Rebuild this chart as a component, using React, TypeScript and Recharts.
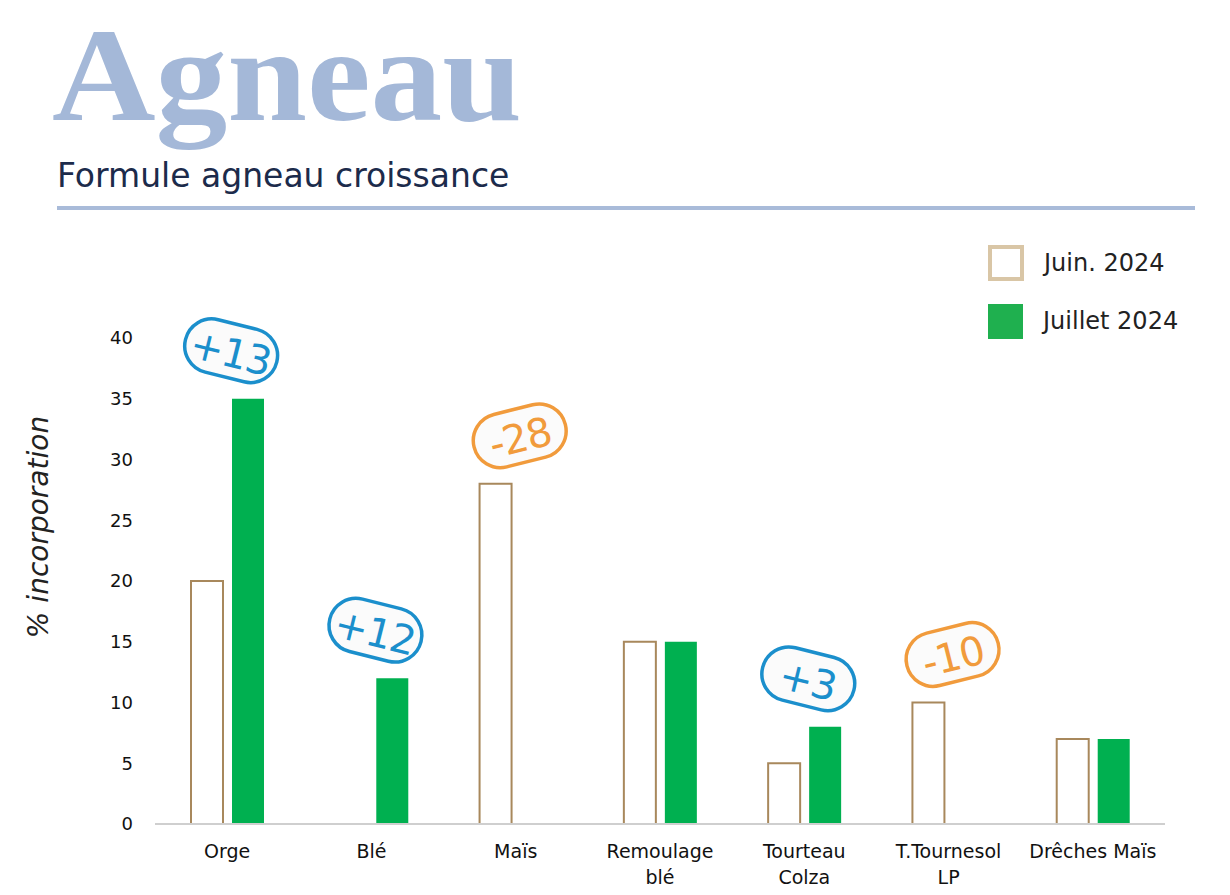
import React from 'react'
import { BarChart, Bar, XAxis, YAxis, ReferenceDot } from 'recharts'

const categories = ['Orge', 'Blé', 'Maïs', 'Remoulage blé', 'Tourteau Colza', 'T.Tournesol LP', 'Drêches Maïs']
const juin2024 = [20, 0, 28, 15, 5, 10, 7]
const juillet2024 = [35, 12, 0, 15, 8, 0, 7]
// écart juillet vs juin, affiché dans les pastilles (0 = pas de pastille)
const variations = [13, 12, -28, 0, 3, -10, 0]
const yTicks = [0, 5, 10, 15, 20, 25, 30, 35, 40]
const seriesNames = ['Juin. 2024', 'Juillet 2024']

const data = categories.map((name, i) => ({
  name,
  juin: juin2024[i],
  juillet: juillet2024[i],
}))

const TAN = '#a8885c'
const GREEN = '#00b050'
const BLUE = '#1b8fcc'
const ORANGE = '#f19b3c'
const SANS = '"DejaVu Sans", sans-serif'

const Badge = (props: any) => {
  const { cx, cy, delta } = props
  if (cx == null || cy == null) return null
  const up = delta > 0
  const color = up ? BLUE : ORANGE
  return (
    <g transform={`translate(${cx + 4}, ${cy - 48}) rotate(${up ? 14 : -14})`}>
      <rect x={-47} y={-27} width={94} height={54} rx={27} fill="#fbfbfb" stroke={color} strokeWidth={3.5} />
      <text
        x={0}
        y={2}
        textAnchor="middle"
        dominantBaseline="central"
        fill={color}
        fontSize={40}
        fontFamily={SANS}
        letterSpacing={-1}
      >
        {up ? `+${delta}` : `${delta}`}
      </text>
    </g>
  )
}

const CategoryTick = ({ x, y, payload }: any) => {
  const label: string = payload.value
  const cut = label.indexOf(' ')
  const lines = label.length > 12 ? [label.slice(0, cut), label.slice(cut + 1)] : [label]
  return (
    <text x={x} y={y} textAnchor="middle" fill="#111" fontSize={19} fontFamily={SANS}>
      {lines.map((l, i) => (
        <tspan key={i} x={x} dy={26}>
          {l}
        </tspan>
      ))}
    </text>
  )
}

const YLabel = () => (
  <text
    transform="translate(48, 527) rotate(-90)"
    textAnchor="middle"
    fill="#222"
    fontSize={28}
    fontStyle="italic"
    fontFamily={SANS}
  >
    % incorporation
  </text>
)

export default function App() {
  return (
    <div style={{ position: 'relative', width: 1230, height: 895, background: '#fff', overflow: 'hidden' }}>
      <style>{'body{margin:0}'}</style>

      {/* En-tête */}
      <svg width={1230} height={240} style={{ position: 'absolute', left: 0, top: 0 }}>
        <text
          x={52}
          y={120}
          fontFamily='"Liberation Serif", serif'
          fontWeight={700}
          fontSize={134}
          textLength={470}
          lengthAdjust="spacingAndGlyphs"
          fill="#a4b8d8"
        >
          Agneau
        </text>
        <text x={57} y={187} fontFamily={SANS} fontSize={33} fill="#1c2b4b">
          Formule agneau croissance
        </text>
        <rect x={57} y={206} width={1138} height={4} fill="#a9bbd9" />
      </svg>

      {/* Légende */}
      <div style={{ position: 'absolute', left: 988, top: 245, fontFamily: SANS, fontSize: 24, color: '#222' }}>
        {seriesNames.map((n, i) => (
          <div key={n} style={{ display: 'flex', alignItems: 'center', height: 36, marginBottom: 22 }}>
            <span
              style={{
                display: 'inline-block',
                width: i === 0 ? 28 : 35,
                height: i === 0 ? 28 : 35,
                border: i === 0 ? '4px solid #d9c6a6' : 'none',
                background: i === 0 ? '#fff' : '#1fb04f',
                marginRight: 20,
              }}
            />
            {n}
          </div>
        ))}
      </div>

      <div style={{ position: 'absolute', left: 0, top: 0 }}>
        <BarChart
          width={1230}
          height={895}
          data={data}
          margin={{ top: 338, right: 65, bottom: 0, left: 0 }}
          barSize={32}
          barGap={9}
        >
          <XAxis
            dataKey="name"
            axisLine={{ stroke: '#cfcfcf', strokeWidth: 2 }}
            tickLine={false}
            tick={<CategoryTick />}
            interval={0}
            height={71}
          />
          <YAxis
            domain={[0, 40]}
            ticks={yTicks}
            width={155}
            axisLine={false}
            tickLine={false}
            tickMargin={16}
            tick={{ fill: '#111', fontSize: 18, fontFamily: SANS }}
            label={<YLabel />}
          />
          <Bar dataKey="juin" name={seriesNames[0]} fill="#fff" stroke={TAN} strokeWidth={2} isAnimationActive={false} />
          <Bar dataKey="juillet" name={seriesNames[1]} fill={GREEN} isAnimationActive={false} />
          {categories.map((c, i) =>
            variations[i] !== 0 ? (
              <ReferenceDot
                key={c}
                x={c}
                y={Math.max(juin2024[i], juillet2024[i])}
                r={0}
                ifOverflow="visible"
                shape={(p: any) => <Badge {...p} delta={variations[i]} />}
              />
            ) : null
          )}
        </BarChart>
      </div>
    </div>
  )
}
